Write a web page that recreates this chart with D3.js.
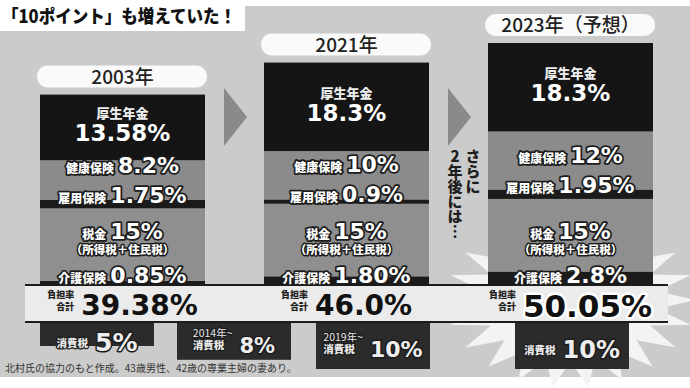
<!DOCTYPE html>
<html>
<head>
<meta charset="utf-8">
<script src="https://cdn.jsdelivr.net/npm/d3@7"></script>
<style>
  body { margin: 0; background: #fff; }
  svg { display: block; }
  text { font-family: "Noto Sans CJK JP", sans-serif; }
  .num { font-family: "DejaVu Sans", sans-serif; font-weight: bold; }
  .ol { paint-order: stroke; stroke: #1c1c1c; stroke-linejoin: round; }
  .vert { writing-mode: vertical-rl; text-orientation: upright; }
</style>
</head>
<body>
<svg id="chart"></svg>
<script>
/**
 * data
 */
const years = ["2003年", "2021年", "2023年（予想）"];
const pension = ["13.58", "18.3", "18.3"];      // 厚生年金
const health = ["8.2", "10", "12"];             // 健康保険
const employment = ["1.75", "0.9", "1.95"];     // 雇用保険
const tax = ["15", "15", "15"];                 // 税金
const care = ["0.85", "1.80", "2.8"];           // 介護保険
const totals = ["39.38", "46.0", "50.05"];      // 負担率合計
const ctaxPeriods = ["", "2014年~", "2019年~", ""];
const ctaxRates = [5, 8, 10, 10];               // 消費税

const W = 690, H = 388;
const BASE = 285;

const svg = d3.select("#chart").attr("width", W).attr("height", H);

const x = d3.scaleBand().domain(years).range([40, 653]).paddingInner(0.2634);
const bw = x.bandwidth();
const y = d3.scaleLinear().domain([0, 50.05]).range([BASE, 43]);
const ctaxH = d3.scaleLinear().domain([0, 10]).range([0, 46]);

// background
svg.append("rect").attr("x", 0).attr("y", 6).attr("width", W).attr("height", 371).attr("fill", "#cbcbcb");
svg.append("rect").attr("x", 0).attr("y", 0).attr("width", 245).attr("height", 31).attr("fill", "#fff");

svg.append("text")
    .attr("x", 2).attr("y", 23)
    .attr("font-size", 18).attr("font-weight", 900).attr("fill", "#111")
    .attr("textLength", 234).attr("lengthAdjust", "spacingAndGlyphs")
    .text("「10ポイント」も増えていた！");

// starburst behind 2023
const bcx = x(years[2]) + bw / 2;
const burst = d3.range(44).map(i => {
    const a = i / 44 * 2 * Math.PI;
    const r = i % 2 ? 0.7 : 1;
    return [bcx + Math.cos(a) * 125 * r, 300 + Math.sin(a) * 88 * r];
});
svg.append("path").attr("d", d3.line()(burst) + "Z").attr("fill", "#f3f3f3");

// total band
svg.append("rect").attr("x", 25).attr("y", BASE).attr("width", 643).attr("height", 37).attr("fill", "#ebebeb");
[BASE, 322].forEach(ly => {
    svg.append("line").attr("x1", 25).attr("x2", 668).attr("y1", ly).attr("y2", ly)
        .attr("stroke", "#1c1c1c").attr("stroke-width", 2);
});

// stacked columns
const rows = years.map((yr, i) => ({
    year: yr, care: +care[i], tax: +tax[i], employment: +employment[i],
    health: +health[i], pension: +pension[i]
}));
const keys = ["care", "tax", "employment", "health", "pension"];
const fills = { care: "#1b1b1b", tax: "#8f8f8f", employment: "#1b1b1b", health: "#8b8b8b", pension: "#151515" };
const series = d3.stack().keys(keys)(rows);

series.forEach(s => {
    svg.append("g").selectAll("rect")
        .data(s)
        .enter()
        .append("rect")
        .attr("x", d => x(d.data.year))
        .attr("width", bw)
        .attr("y", d => y(d[1]))
        .attr("height", d => y(d[0]) - y(d[1]))
        .attr("fill", fills[s.key]);
});

function pair(cx, by, label, value, ls, vs) {
    const t = svg.append("text")
        .attr("x", cx).attr("y", by)
        .attr("text-anchor", "middle")
        .attr("class", "ol").attr("stroke-width", 3.5)
        .attr("fill", "#fff");
    t.append("tspan").attr("font-size", ls).attr("font-weight", 900).text(label);
    t.append("tspan").attr("class", "num").attr("font-size", vs).attr("dx", 4).text(value);
    return t;
}

const S = {};
series.forEach(s => S[s.key] = s);

years.forEach((yr, i) => {
    const cx = x(yr) + bw / 2;
    const top = y(S.pension[i][1]);

    // year pill
    svg.append("rect")
        .attr("x", x(yr) - 3).attr("y", top - 29)
        .attr("width", bw + 5).attr("height", 22).attr("rx", 11)
        .attr("fill", "#fafafa");
    svg.append("text")
        .attr("x", cx).attr("y", top - 11)
        .attr("text-anchor", "middle")
        .attr("font-size", 19).attr("font-weight", 500).attr("fill", "#222")
        .text(yr);

    // pension
    const pc = (top + y(S.pension[i][0])) / 2;
    svg.append("text")
        .attr("x", cx).attr("y", pc - 9)
        .attr("text-anchor", "middle")
        .attr("font-size", 13).attr("font-weight", 900).attr("fill", "#eee")
        .text("厚生年金");
    svg.append("text")
        .attr("class", "num")
        .attr("x", cx).attr("y", pc + 14)
        .attr("text-anchor", "middle")
        .attr("font-size", 23).attr("fill", "#fff")
        .text(pension[i] + "%");

    // health / employment
    const empBase = y(S.employment[i][1]) + 3;
    pair(cx, empBase - 30, "健康保険", health[i] + "%", 12, 22);
    pair(cx, empBase, "雇用保険", employment[i] + "%", 12, 22);

    // tax / care
    const tx = pair(cx, BASE - 46, "税金", tax[i] + "%", 12, 22);
    tx.append("tspan")
        .attr("x", cx).attr("dy", 15)
        .attr("font-size", 11.5).attr("font-weight", 900).attr("stroke-width", 3)
        .text("（所得税＋住民税）");
    pair(cx, BASE - 2, "介護保険", care[i] + "%", 12, 22);

    // total
    const big = i === 2;
    const tv = svg.append("text")
        .attr("class", "num")
        .attr("x", cx + 17).attr("y", big ? 317 : 315)
        .attr("text-anchor", "middle")
        .attr("font-size", big ? 31 : 28)
        .attr("fill", "#111")
        .text(totals[i] + "%");
    if (big) {
        tv.attr("stroke", "#fff").attr("stroke-width", 5).style("paint-order", "stroke").attr("stroke-linejoin", "round");
    }
    const bx = tv.node().getBBox().x;
    const tl = svg.append("text")
        .attr("text-anchor", "end")
        .attr("font-size", 9).attr("font-weight", 900).attr("fill", "#222");
    ["負担率", "合計"].forEach((s, k) => {
        tl.append("tspan").attr("x", bx - 7).attr("y", 298 + k * 12).text(s);
    });
});

// arrows between columns
[0, 1].forEach(i => {
    const ax = x(years[i]) + bw + 19;
    svg.append("path")
        .attr("d", d3.line()([[ax, 88], [ax + 23, 117], [ax, 146]]) + "Z")
        .attr("fill", "#8a8a8a");
});

// vertical note
["さらに", "2年後には…"].forEach((s, c) => {
    svg.append("text")
        .attr("class", "vert")
        .attr("x", 473 - c * 18).attr("y", 149)
        .attr("font-size", 15).attr("font-weight", 900).attr("fill", "#1e1e1e")
        .text(s);
});

// consumption tax boxes
const boxX = [x(years[0]), x(years[0]) + bw - 28, x(years[1]) + 52, x(years[2]) + 27];
const valSize = [25, 21, 22, 24];
const valBase = [351, 353, 357, 358];
ctaxRates.forEach((r, i) => {
    const h = ctaxH(r);
    svg.append("rect")
        .attr("x", boxX[i]).attr("y", 323)
        .attr("width", 114).attr("height", h)
        .attr("fill", "#2b2b2b");
    const cx = boxX[i] + 57;
    const by = valBase[i];
    const v = svg.append("text")
        .attr("class", "num ol").attr("stroke-width", 3)
        .attr("y", by).attr("font-size", valSize[i]).attr("fill", "#eee")
        .text(r + "%");
    const vw = v.node().getComputedTextLength();
    const lines = ctaxPeriods[i] ? [ctaxPeriods[i], "消費税"] : ["消費税"];
    const st = svg.append("text")
        .attr("font-size", 10.5).attr("fill", "#e8e8e8")
        .attr("stroke", "#1c1c1c").attr("stroke-width", 2.5)
        .style("paint-order", "stroke").attr("stroke-linejoin", "round");
    const spans = lines.map((s, k) => st.append("tspan")
        .attr("x", 0)
        .attr("y", by - 4 - (lines.length - 1 - k) * 12)
        .attr("font-weight", k === lines.length - 1 ? 900 : 400)
        .text(s));
    const sw = d3.max(spans, t => t.node().getComputedTextLength());
    const start = cx - (sw + 7 + vw) / 2;
    spans.forEach(t => t.attr("x", start));
    v.attr("x", start + sw + 7);
});

svg.append("text")
    .attr("x", 5).attr("y", 372)
    .attr("font-size", 10).attr("fill", "#333")
    .text("北村氏の協力のもと作成。43歳男性、42歳の専業主婦の妻あり。");
</script>
</body>
</html>
